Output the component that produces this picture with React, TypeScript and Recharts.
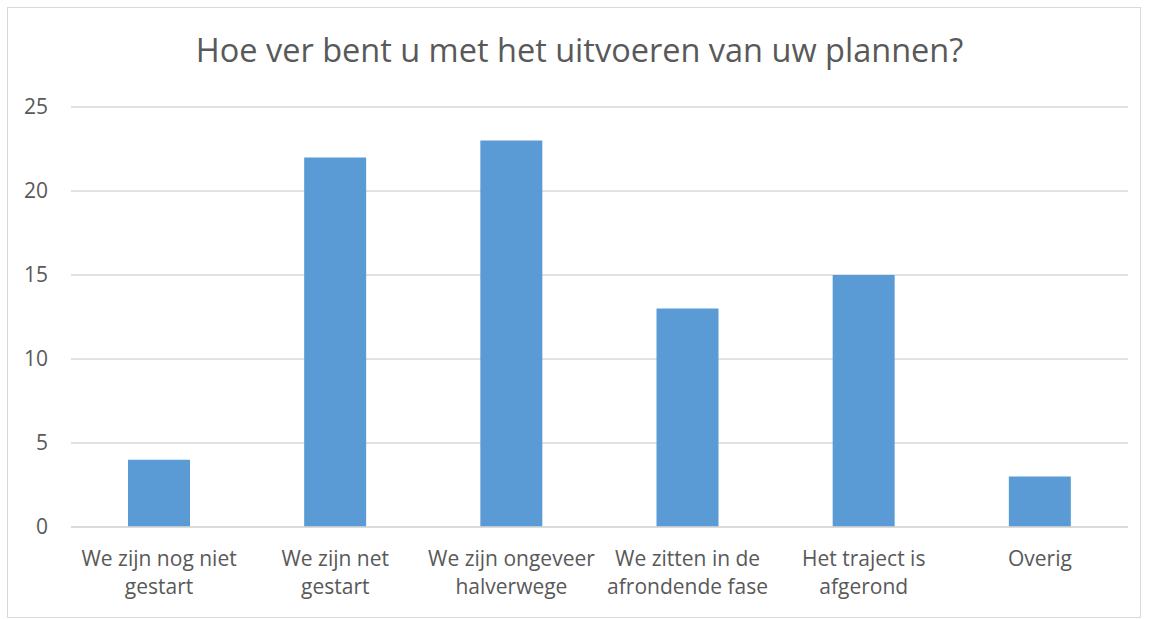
import { Bar, BarChart, CartesianGrid, XAxis, YAxis } from "recharts";

// Category labels keep the line breaks from the original axis.
const categories = [
  ["We zijn nog niet", "gestart"],
  ["We zijn net", "gestart"],
  ["We zijn ongeveer", "halverwege"],
  ["We zitten in de", "afrondende fase"],
  ["Het traject is", "afgerond"],
  ["Overig"],
];
const counts = [4, 22, 23, 13, 15, 3];
const yTicks = [0, 5, 10, 15, 20, 25];

const data = categories.map((lines, i) => ({ name: lines.join(" "), lines, count: counts[i] }));

const FONT = "'Open Sans', sans-serif";
const TEXT = "#595959";
const GRID = "#d9d9d9";

function CategoryTick({ x, y, payload, index }: { x?: number; y?: number; payload?: { value: string }; index?: number }) {
  const lines = data[index ?? 0]?.lines ?? [payload?.value ?? ""];
  return (
    <text x={x} y={y} textAnchor="middle" fill={TEXT} fontSize={21} fontFamily={FONT}>
      {lines.map((l, i) => (
        <tspan key={i} x={x} dy={i === 0 ? 30.5 : 28.5}>
          {l}
        </tspan>
      ))}
    </text>
  );
}

export default function App() {
  return (
    <div style={{ position: "absolute", left: 0, top: 0, width: 1149, height: 619, background: "#fff" }}>
      <div
        style={{
          position: "absolute",
          left: 7,
          top: 7,
          width: 1134,
          height: 611,
          border: `1px solid ${GRID}`,
          boxSizing: "border-box",
        }}
      />
      <svg width={1149} height={100} style={{ position: "absolute", left: 0, top: 0 }}>
        <text x={579.5} y={62} textAnchor="middle" fill={TEXT} fontSize={32.5} fontFamily={FONT}>
          Hoe ver bent u met het uitvoeren van uw plannen?
        </text>
      </svg>
      <div style={{ position: "absolute", left: 0, top: 0 }}>
        <BarChart width={1149} height={619} data={data} margin={{ top: 107, right: 21, bottom: 11, left: 0 }}>
          <CartesianGrid vertical={false} stroke={GRID} strokeWidth={1.5} />
          <XAxis
            dataKey="name"
            interval={0}
            tickLine={false}
            axisLine={{ stroke: GRID, strokeWidth: 1.5 }}
            height={81}
            tick={<CategoryTick />}
          />
          <YAxis
            domain={[0, 25]}
            ticks={yTicks}
            width={71}
            tickLine={false}
            axisLine={false}
            tickSize={0}
            tickMargin={23}
            tick={{ fill: TEXT, fontSize: 21, fontFamily: FONT }}
          />
          <Bar dataKey="count" fill="#5b9bd5" barSize={62} isAnimationActive={false} />
        </BarChart>
      </div>
    </div>
  );
}
